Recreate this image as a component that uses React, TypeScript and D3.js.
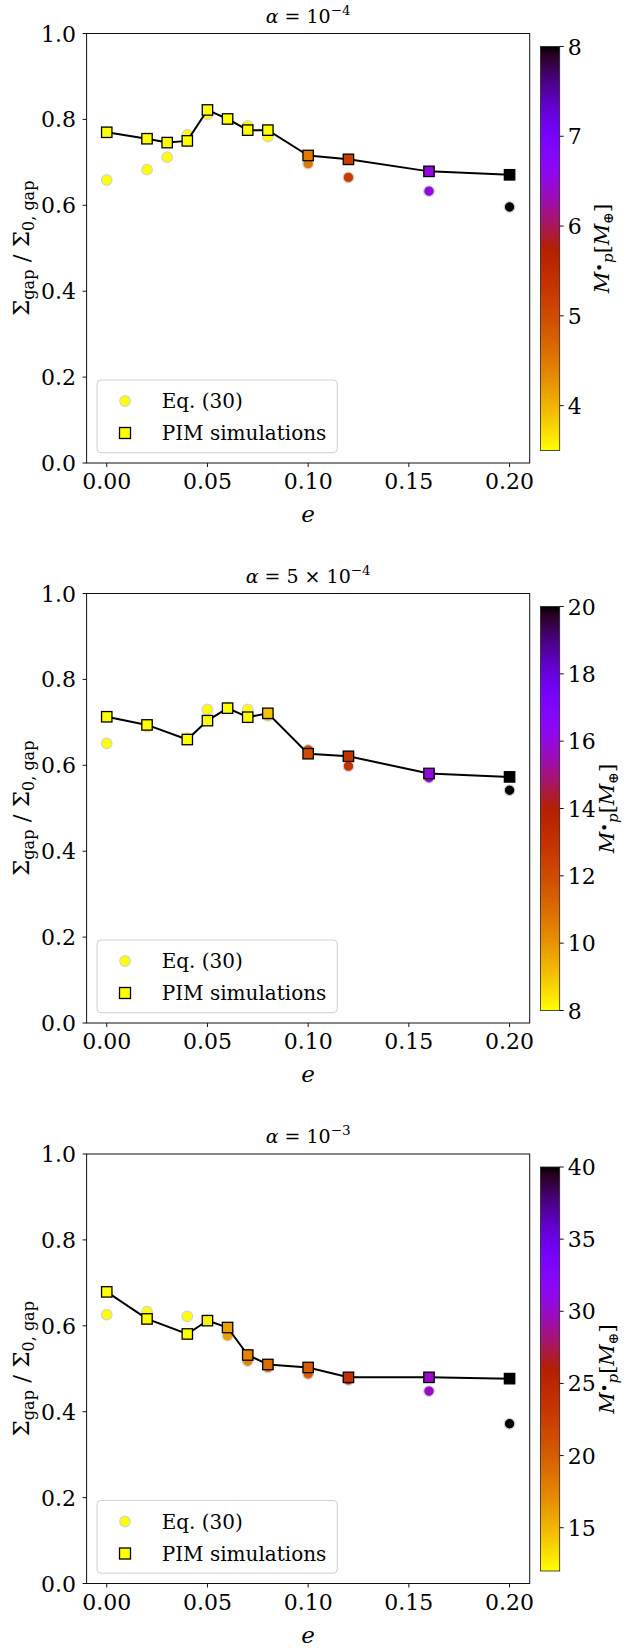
import React from "react";
import * as d3 from "d3";

// ---------- data ----------
const ecc1 = [0.0, 0.02, 0.03, 0.04, 0.05, 0.06, 0.07, 0.08, 0.1, 0.12, 0.16, 0.2];
const pim1 = [0.770, 0.755, 0.746, 0.750, 0.822, 0.801, 0.775, 0.775, 0.716, 0.707, 0.679, 0.671];
const eq1 = [0.659, 0.683, 0.712, 0.764, 0.812, 0.800, 0.785, 0.760, 0.697, 0.665, 0.633, 0.596];
const mass1 = [3.5, 3.5, 3.5, 3.5, 3.5, 3.5, 3.5, 3.5, 4.5, 5.2, 6.5, 8];

const ecc2 = [0.0, 0.02, 0.04, 0.05, 0.06, 0.07, 0.08, 0.1, 0.12, 0.16, 0.2];
const pim2 = [0.713, 0.694, 0.660, 0.704, 0.733, 0.712, 0.721, 0.627, 0.621, 0.581, 0.573];
const eq2 = [0.651, 0.690, 0.663, 0.730, 0.735, 0.730, 0.715, 0.636, 0.598, 0.571, 0.542];
const mass2 = [8, 8, 8, 8, 8, 8, 9, 12, 13, 16, 20];

const ecc3 = [0.0, 0.02, 0.04, 0.05, 0.06, 0.07, 0.08, 0.1, 0.12, 0.16, 0.2];
const pim3 = [0.679, 0.616, 0.581, 0.612, 0.596, 0.532, 0.510, 0.503, 0.480, 0.480, 0.477];
const eq3 = [0.626, 0.633, 0.622, 0.613, 0.577, 0.518, 0.503, 0.488, 0.474, 0.448, 0.372];
const mass3 = [12, 12, 12, 12.5, 16, 17.5, 19, 20, 24, 30, 40];

const xTicks = [0, 0.05, 0.1, 0.15, 0.2];
const yTicks = [0, 0.2, 0.4, 0.6, 0.8, 1.0];
const cTicks1 = [4, 5, 6, 7, 8];
const cTicks2 = [8, 10, 12, 14, 16, 18, 20];
const cTicks3 = [15, 20, 25, 30, 35, 40];

// ---------- helpers ----------
const FONT = "'DejaVu Serif', serif";

function gnuplotR(t: number): string {
  const x = 1 - Math.max(0, Math.min(1, t));
  const r = Math.sqrt(x);
  const g = x * x * x;
  const b = Math.max(0, Math.sin(2 * Math.PI * x));
  return d3.rgb(r * 255, g * 255, b * 255).formatHex();
}

type PanelProps = {
  top: number;
  title: React.ReactNode;
  ecc: number[];
  pim: number[];
  eq: number[];
  mass: number[];
  cDomain: [number, number];
  cTicks: number[];
  gid: string;
  cbLabelX: number;
};

const LEFT = 86.6;
const RIGHT = 529.7;
const HEIGHT = 429.5;
const CB_X0 = 540.5;
const CB_X1 = 559.7;

function Panel(p: PanelProps) {
  const bottom = p.top + HEIGHT;
  const x = d3.scaleLinear().domain([-0.01, 0.21]).range([LEFT, RIGHT]);
  const y = d3.scaleLinear().domain([0, 1]).range([bottom, p.top]);
  const norm = d3.scaleLinear().domain(p.cDomain).range([0, 1]).clamp(true);
  const color = (v: number) => gnuplotR(norm(v));
  const cbTop = p.top + 13;
  const cbBot = bottom - 12.5;
  const cy = d3.scaleLinear().domain(p.cDomain).range([cbBot, cbTop]);
  const line = d3
    .line<number>()
    .x((_, i) => x(p.ecc[i]))
    .y((d) => y(d));
  const fmtX = d3.format(".2f");
  const fmtY = d3.format(".1f");
  const sq = 10.4;
  const stops = d3.range(0, 65).map((i) => i / 64);
  const legTop = bottom - 10.3 - 72.7;
  const midY = (p.top + bottom) / 2;
  const cbMid = (cbTop + cbBot) / 2;

  return (
    <g>
      <defs>
        <linearGradient id={p.gid} x1="0" y1="1" x2="0" y2="0">
          {stops.map((t) => (
            <stop key={t} offset={t} stopColor={gnuplotR(t)} />
          ))}
        </linearGradient>
      </defs>

      {/* title */}
      <text x={(LEFT + RIGHT) / 2} y={p.top - 11} fontSize={19} textAnchor="middle" fontFamily={FONT}>
        {p.title}
      </text>

      {/* axes frame */}
      <rect x={LEFT} y={p.top} width={RIGHT - LEFT} height={HEIGHT} fill="white" stroke="#111" strokeWidth={1} />

      {/* y ticks */}
      {yTicks.map((t) => (
        <g key={"y" + t}>
          <line x1={LEFT - 4} x2={LEFT} y1={y(t)} y2={y(t)} stroke="#111" strokeWidth={1} />
          <text x={LEFT - 10.5} y={y(t) + 8} fontSize={22} textAnchor="end" fontFamily={FONT}>
            {fmtY(t)}
          </text>
        </g>
      ))}
      {/* x ticks */}
      {xTicks.map((t) => (
        <g key={"x" + t}>
          <line x1={x(t)} x2={x(t)} y1={bottom} y2={bottom + 4} stroke="#111" strokeWidth={1} />
          <text x={x(t)} y={bottom + 26} fontSize={22} textAnchor="middle" fontFamily={FONT}>
            {fmtX(t)}
          </text>
        </g>
      ))}

      {/* axis labels */}
      <text x={x(0.1)} y={bottom + 59} fontSize={23} textAnchor="middle" fontFamily={FONT} fontStyle="italic">
        e
      </text>
      <text
        transform={`translate(29,${midY}) rotate(-90)`}
        fontSize={23}
        textAnchor="middle"
        fontFamily={FONT}
      >
        <tspan>Σ</tspan>
        <tspan fontSize={16} dy={5}>gap</tspan>
        <tspan dy={-5}> / Σ</tspan>
        <tspan fontSize={16} dy={5}>0, gap</tspan>
      </text>

      {/* Eq. (30) circles */}
      {p.eq.map((v, i) => (
        <circle
          key={"c" + i}
          cx={x(p.ecc[i])}
          cy={y(v)}
          r={5.3}
          fill={color(p.mass[i])}
          stroke="#d3d3d3"
          strokeWidth={1.2}
        />
      ))}

      {/* PIM line */}
      <path d={line(p.pim) || ""} fill="none" stroke="black" strokeWidth={2} />

      {/* PIM squares */}
      {p.pim.map((v, i) => (
        <rect
          key={"s" + i}
          x={x(p.ecc[i]) - sq / 2}
          y={y(v) - sq / 2}
          width={sq}
          height={sq}
          fill={color(p.mass[i])}
          stroke="black"
          strokeWidth={1.3}
        />
      ))}

      {/* legend */}
      <rect x={97} y={legTop} width={240.3} height={72.7} rx={4} fill="white" fillOpacity={0.8} stroke="#d0d0d0" strokeWidth={1} />
      <circle cx={125} cy={legTop + 21} r={5.3} fill={gnuplotR(0)} stroke="#d3d3d3" strokeWidth={1.2} />
      <text x={161.7} y={legTop + 28} fontSize={20} fontFamily={FONT}>
        Eq. (30)
      </text>
      <rect x={125 - 5.5} y={legTop + 53 - 5.5} width={11} height={11} fill={gnuplotR(0)} stroke="black" strokeWidth={1.3} />
      <text x={161.7} y={legTop + 60} fontSize={20} fontFamily={FONT}>
        PIM simulations
      </text>

      {/* colorbar */}
      <rect x={CB_X0} y={cbTop} width={CB_X1 - CB_X0} height={cbBot - cbTop} fill={`url(#${p.gid})`} stroke="#222" strokeWidth={0.8} />
      {p.cTicks.map((t) => (
        <g key={"cb" + t}>
          <line x1={CB_X1} x2={CB_X1 + 4} y1={cy(t)} y2={cy(t)} stroke="#111" strokeWidth={1} />
          <text x={CB_X1 + 8} y={cy(t) + 8} fontSize={22} fontFamily={FONT}>
            {t}
          </text>
        </g>
      ))}
      <text
        transform={`translate(${p.cbLabelX},${cbMid}) rotate(-90)`}
        fontSize={21}
        textAnchor="middle"
        fontFamily={FONT}
      >
        <tspan fontStyle="italic">M</tspan>
        <tspan fontSize={15} dy={-4}>•</tspan>
        <tspan fontSize={15} fontStyle="italic" dy={8}>p</tspan>
        <tspan dy={-4}>[</tspan>
        <tspan fontStyle="italic">M</tspan>
        <tspan fontSize={14} dy={4}>⊕</tspan>
        <tspan dy={-4}>]</tspan>
      </text>
    </g>
  );
}

function Title({ pre, exp }: { pre: string; exp: string }) {
  return (
    <>
      <tspan fontStyle="italic">α</tspan>
      <tspan>{" = " + pre}</tspan>
      <tspan fontSize={13.5} dy={-8}>{exp}</tspan>
    </>
  );
}

export default function App() {
  return (
    <div style={{ position: "absolute", left: 0, top: 0, width: 626, height: 1648, background: "white" }}>
      <svg width={626} height={1648} viewBox="0 0 626 1648" style={{ display: "block" }}>
        <rect x={0} y={0} width={626} height={1648} fill="white" />
        <Panel
          top={33.5}
          title={<Title pre="10" exp="−4" />}
          ecc={ecc1}
          pim={pim1}
          eq={eq1}
          mass={mass1}
          cDomain={[3.5, 8]}
          cTicks={cTicks1}
          gid="cb1"
          cbLabelX={609}
        />
        <Panel
          top={593.5}
          title={<Title pre="5 × 10" exp="−4" />}
          ecc={ecc2}
          pim={pim2}
          eq={eq2}
          mass={mass2}
          cDomain={[8, 20]}
          cTicks={cTicks2}
          gid="cb2"
          cbLabelX={614}
        />
        <Panel
          top={1154}
          title={<Title pre="10" exp="−3" />}
          ecc={ecc3}
          pim={pim3}
          eq={eq3}
          mass={mass3}
          cDomain={[12, 40]}
          cTicks={cTicks3}
          gid="cb3"
          cbLabelX={614}
        />
      </svg>
    </div>
  );
}
